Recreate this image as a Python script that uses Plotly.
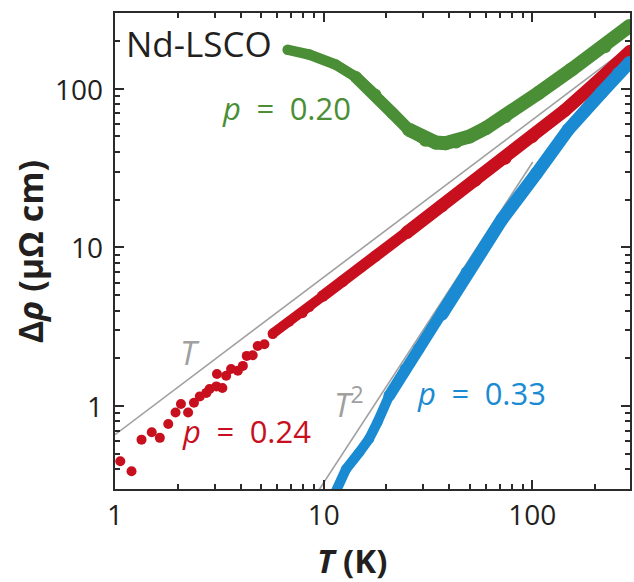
import math
import plotly.graph_objects as go

# ---------------- data ----------------
# p = 0.20 (green)
T_020 = [6.72, 8.53, 11.4, 14.2, 17.7, 21.3, 25.6, 30.8, 34.5, 38.3, 43, 50, 60, 74, 107, 154, 222, 292]
rho_020 = [176, 164, 142, 119, 91.7, 70.4, 55.2, 47.7, 45.8, 45.3, 46.5, 50, 56.5, 67, 94, 132, 185, 248]

# p = 0.24 (red) - sparse low-T points
T_024_pts = [1.06, 1.20, 1.34, 1.50, 1.64, 1.80, 1.95, 2.07, 2.24, 2.39, 2.55, 2.74, 2.84,
             3.06, 3.08, 3.27, 3.41, 3.60, 3.88, 4.10, 4.28, 4.57, 4.83, 5.20, 5.70]
rho_024_pts = [0.449, 0.388, 0.614, 0.683, 0.63, 0.77, 0.91, 1.03, 0.91, 1.05, 1.15, 1.21, 1.28,
               1.33, 1.59, 1.30, 1.55, 1.71, 1.67, 1.79, 2.07, 2.09, 2.39, 2.45, 2.84]
# p = 0.24 (red) - dense part
T_024 = [5.7, 6.84, 7.92, 8.53, 9.87, 12.3, 17.7, 25, 36.9, 53.3, 74, 100, 143, 200, 250, 294]
rho_024 = [2.86, 3.40, 3.85, 4.2, 4.92, 6.1, 8.8, 12.4, 18.3, 26.5, 36.5, 50, 73, 108, 140, 172]

# p = 0.33 (blue)
T_033 = [11.3, 12.8, 14.8, 16.5, 18.1, 20.6, 24.7, 28.6, 36.9, 48.6, 71.4, 105, 148.5, 214, 259, 292]
rho_033 = [0.28, 0.40, 0.51, 0.62, 0.79, 1.16, 1.71, 2.3, 3.8, 6.92, 14.96, 29.4, 55.1, 94, 125, 146]

# guide lines
T_lin = [1, 250]
rho_lin = [0.66, 158]
T_sq = [9.4, 100.5]
rho_sq = [0.29, 34.5]

x_major = [1, 10, 100]
x_minor = [2, 3, 4, 5, 6, 7, 8, 9, 20, 30, 40, 50, 60, 70, 80, 90, 200]
y_major = [1, 10, 100]
y_minor = [0.4, 0.5, 0.6, 0.7, 0.8, 0.9, 2, 3, 4, 5, 6, 7, 8, 9,
           20, 30, 40, 50, 60, 70, 80, 90, 200]

GREEN = "#4a8e36"
RED = "#c80f1e"
BLUE = "#1a8bd2"
GREY = "#a0a0a0"
AX = "#2b2b2b"
TXT = "#231f20"
FONT = "Open Sans"

fig = go.Figure()
fig.add_trace(go.Scatter(x=T_lin, y=rho_lin, mode="lines",
                         line=dict(color=GREY, width=1.6), hoverinfo="skip"))
fig.add_trace(go.Scatter(x=T_sq, y=rho_sq, mode="lines",
                         line=dict(color=GREY, width=1.6), hoverinfo="skip"))


def band(xs, ys, color, segments):
    """Draw a dense data band as overlapping pieces of growing thickness."""
    for (i0, i1, w) in segments:
        fig.add_trace(go.Scatter(x=xs[i0:i1], y=ys[i0:i1], mode="lines+markers",
                                 line=dict(color=color, width=w),
                                 marker=dict(color=color, size=w)))


# green
band(T_020, rho_020, GREEN, [(0, 5, 10.5), (3, 8, 12), (6, None, 14)])

# red
fig.add_trace(go.Scatter(x=T_024_pts, y=rho_024_pts, mode="markers",
                         marker=dict(color=RED, size=10)))
band(T_024, rho_024, RED, [(0, 6, 10), (4, 9, 11.5), (7, None, 13)])

# blue
band(T_033, rho_033, BLUE, [(0, 7, 10), (5, 10, 11.5), (8, None, 13)])

# plot-area pixel geometry
L, R, TOP, BOT = 115, 632, 13, 489
W, H = 634, 582


def px(x):
    return (x - L) / (R - L)


def py(y):
    return (BOT - y) / (BOT - TOP)


axis_common = dict(
    type="log", showgrid=False, zeroline=False,
    showline=True, linewidth=2, linecolor=AX, mirror="allticks",
    ticks="inside", ticklen=9, tickwidth=1.5, tickcolor=AX,
    tickfont=dict(family=FONT, size=28, color=TXT),
    tickmode="array",
)

fig.update_xaxes(**axis_common, range=[0, 2.468], tickvals=x_major,
                 ticktext=[str(v) for v in x_major],
                 minor=dict(tickmode="array", tickvals=x_minor, ticks="inside",
                            ticklen=5, tickwidth=1.5, tickcolor=AX))
fig.update_yaxes(**axis_common, range=[-0.5229, 2.4771], tickvals=y_major,
                 showticklabels=False,
                 minor=dict(tickmode="array", tickvals=y_minor, ticks="inside",
                            ticklen=5, tickwidth=1.5, tickcolor=AX))

ann = []

# y tick labels placed on the y scale, right-aligned next to the axis
for v in y_major:
    ann.append(dict(text=str(v), x=0, xref="paper", y=math.log10(v), yref="y",
                    xanchor="right", yanchor="middle", xshift=-10, showarrow=False,
                    font=dict(family=FONT, size=28, color=TXT)))


def label(text, x, y, color, size, xanchor="left", **kw):
    ann.append(dict(text=text, x=px(x), y=py(y), xref="paper", yref="paper",
                    xanchor=xanchor, yanchor="middle", showarrow=False,
                    font=dict(family=FONT, size=size, color=color), **kw))


SP = "\u2002"
label("Nd-LSCO", 124, 43, TXT, 35)
label("<i>p</i>" + SP + "=" + SP + "0.20", 220, 108, GREEN, 31)
label("<i>p</i>" + SP + "=" + SP + "0.24", 180, 431, RED, 31)
label("<i>p</i>" + SP + "=" + SP + "0.33", 416, 393, BLUE, 31)
label("<i>T</i>", 178, 352, GREY, 33)
label("<i>T</i><sup>2</sup>", 333, 402, GREY, 33)
label("<b><i>T</i> (K)</b>", 353, 560, TXT, 33, xanchor="center")
label("<b>Δ<i>ρ</i> (μΩ cm)</b>", 30, 252, TXT, 34, xanchor="center", textangle=-90)

fig.update_layout(
    width=W, height=H,
    margin=dict(l=L, r=W - R, t=TOP, b=H - BOT, pad=0),
    paper_bgcolor="white", plot_bgcolor="white",
    showlegend=False, annotations=ann,
    font=dict(family=FONT),
)

fig.write_html("out.html", config={"displayModeBar": False},
               post_script="document.body.style.margin='0px';document.body.style.padding='0px';")
